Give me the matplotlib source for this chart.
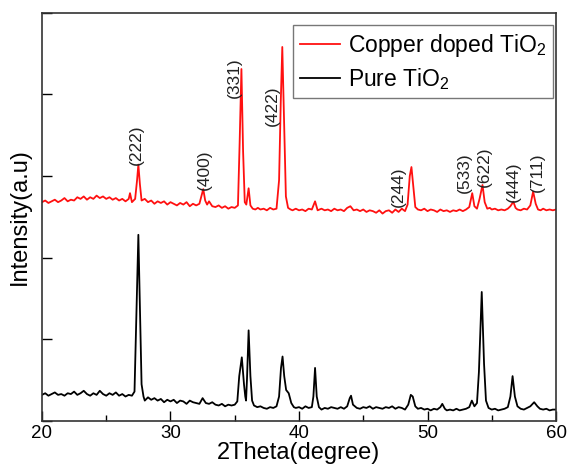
import matplotlib
matplotlib.use("Agg")
import matplotlib.pyplot as plt
from matplotlib.ticker import MultipleLocator

plt.rcParams["font.family"] = ["Liberation Sans", "DejaVu Sans"]
plt.rcParams["mathtext.fontset"] = "custom"
plt.rcParams["mathtext.rm"] = "Liberation Sans"
plt.rcParams["mathtext.it"] = "Liberation Sans:italic"

# ---- pure TiO2 (black) ----
pure_x = [
    20.00, 20.25, 20.50, 20.75, 21.00, 21.25, 21.50, 21.75, 22.00, 22.25,
    22.50, 22.75, 23.00, 23.25, 23.50, 23.75, 24.00, 24.25, 24.50, 24.75,
    25.00, 25.25, 25.50, 25.75, 26.00, 26.25, 26.50, 26.75, 27.00, 27.20,
    27.35, 27.50, 27.62, 27.75, 27.90, 28.00, 28.25, 28.50, 28.75, 29.00,
    29.25, 29.50, 29.75, 30.00, 30.25, 30.50, 30.75, 31.00, 31.25, 31.50,
    31.75, 32.00, 32.25, 32.50, 32.75, 33.00, 33.25, 33.50, 33.75, 34.00,
    34.25, 34.50, 34.75, 35.00, 35.20, 35.35, 35.55, 35.72, 35.82, 35.88,
    35.95, 36.08, 36.22, 36.35, 36.50, 36.75, 37.00, 37.25, 37.50, 37.75,
    38.00, 38.25, 38.45, 38.60, 38.72, 38.85, 39.00, 39.20, 39.40, 39.60,
    39.75, 40.00, 40.25, 40.50, 40.75, 41.00, 41.12, 41.25, 41.38, 41.55,
    41.75, 42.00, 42.25, 42.50, 42.75, 43.00, 43.25, 43.50, 43.75, 43.95,
    44.05, 44.20, 44.50, 44.75, 45.00, 45.25, 45.50, 45.75, 46.00, 46.25,
    46.50, 46.75, 47.00, 47.25, 47.50, 47.75, 48.00, 48.25, 48.50, 48.70,
    48.85, 49.05, 49.25, 49.50, 49.75, 50.00, 50.25, 50.50, 50.75, 51.00,
    51.15, 51.35, 51.50, 51.75, 52.00, 52.25, 52.50, 52.75, 53.00, 53.25,
    53.45, 53.65, 53.85, 54.00, 54.22, 54.40, 54.55, 54.75, 55.00, 55.25,
    55.50, 55.75, 56.00, 56.25, 56.45, 56.62, 56.80, 57.00, 57.25, 57.50,
    57.75, 58.00, 58.30, 58.55, 58.75, 59.00, 59.25, 59.50, 59.75, 60.00,
]
pure_y = [
    0.32, 0.34, 0.31, 0.33, 0.35, 0.32, 0.33, 0.31, 0.34, 0.33,
    0.36, 0.32, 0.34, 0.37, 0.33, 0.31, 0.34, 0.32, 0.37, 0.33,
    0.31, 0.34, 0.32, 0.35, 0.31, 0.33, 0.30, 0.32, 0.31, 0.36,
    1.30, 2.28, 1.40, 0.45, 0.30, 0.25, 0.29, 0.26, 0.28, 0.25,
    0.27, 0.23, 0.26, 0.24, 0.26, 0.22, 0.25, 0.24, 0.21, 0.25,
    0.23, 0.22, 0.21, 0.28, 0.22, 0.21, 0.23, 0.20, 0.19, 0.21,
    0.18, 0.20, 0.19, 0.20, 0.24, 0.55, 0.78, 0.45, 0.30, 0.25,
    0.50, 1.11, 0.55, 0.25, 0.19, 0.17, 0.18, 0.16, 0.15, 0.17,
    0.16, 0.18, 0.30, 0.65, 0.79, 0.55, 0.38, 0.34, 0.22, 0.17,
    0.16, 0.17, 0.15, 0.18, 0.16, 0.17, 0.30, 0.65, 0.30, 0.17,
    0.14, 0.16, 0.15, 0.17, 0.16, 0.15, 0.17, 0.15, 0.18, 0.28,
    0.31, 0.20, 0.16, 0.15, 0.17, 0.16, 0.18, 0.15, 0.17, 0.16,
    0.15, 0.17, 0.16, 0.18, 0.15, 0.17, 0.16, 0.14, 0.20, 0.32,
    0.30, 0.18, 0.15, 0.16, 0.14, 0.15, 0.13, 0.15, 0.14, 0.17,
    0.21, 0.15, 0.13, 0.14, 0.13, 0.15, 0.13, 0.14, 0.15, 0.17,
    0.25, 0.18, 0.22, 0.60, 1.58, 0.70, 0.25, 0.16, 0.14, 0.15,
    0.13, 0.14, 0.15, 0.17, 0.30, 0.55, 0.30, 0.18, 0.15, 0.14,
    0.16, 0.18, 0.23, 0.18, 0.15, 0.14, 0.15, 0.13, 0.14, 0.14,
]

# ---- copper doped TiO2 (red) ----
cu_x = [
    20.00, 20.25, 20.50, 20.75, 21.00, 21.25, 21.50, 21.75, 22.00, 22.25,
    22.50, 22.75, 23.00, 23.25, 23.50, 23.75, 24.00, 24.25, 24.50, 24.75,
    25.00, 25.25, 25.50, 25.75, 26.00, 26.25, 26.50, 26.75, 26.85, 27.00,
    27.25, 27.40, 27.50, 27.62, 27.75, 28.00, 28.25, 28.50, 28.75, 29.00,
    29.25, 29.50, 29.75, 30.00, 30.25, 30.50, 30.75, 31.00, 31.25, 31.50,
    31.75, 32.00, 32.25, 32.45, 32.55, 32.70, 32.85, 33.00, 33.25, 33.50,
    33.75, 34.00, 34.25, 34.50, 34.75, 35.00, 35.25, 35.38, 35.52, 35.65,
    35.78, 35.90, 36.08, 36.22, 36.40, 36.60, 36.80, 37.00, 37.25, 37.50,
    37.75, 38.00, 38.25, 38.45, 38.58, 38.70, 38.85, 38.98, 39.15, 39.35,
    39.50, 39.75, 40.00, 40.25, 40.50, 40.75, 41.00, 41.25, 41.45, 41.75,
    42.00, 42.25, 42.50, 42.75, 43.00, 43.25, 43.50, 43.75, 44.00, 44.25,
    44.50, 44.75, 45.00, 45.25, 45.50, 45.75, 46.00, 46.25, 46.50, 46.75,
    47.00, 47.25, 47.50, 47.75, 48.00, 48.25, 48.45, 48.62, 48.75, 48.88,
    49.05, 49.25, 49.50, 49.75, 50.00, 50.25, 50.50, 50.75, 51.00, 51.25,
    51.50, 51.75, 52.00, 52.25, 52.50, 52.75, 53.00, 53.25, 53.48, 53.65,
    53.85, 54.05, 54.28, 54.45, 54.65, 54.85, 55.00, 55.25, 55.50, 55.75,
    56.00, 56.25, 56.45, 56.68, 56.85, 57.00, 57.25, 57.50, 57.75, 58.00,
    58.22, 58.42, 58.60, 58.80, 59.00, 59.25, 59.50, 59.75, 60.00,
]
cu_y = [
    2.68, 2.70, 2.67, 2.69, 2.71, 2.68, 2.70, 2.73, 2.69, 2.71,
    2.70, 2.74, 2.72, 2.75, 2.71, 2.74, 2.72, 2.76, 2.73, 2.75,
    2.72, 2.74, 2.71, 2.73, 2.70, 2.72, 2.69, 2.72, 2.79, 2.68,
    2.72, 2.95, 3.14, 2.90, 2.70, 2.72, 2.68, 2.70, 2.66, 2.69,
    2.67, 2.69, 2.65, 2.68, 2.66, 2.64, 2.67, 2.65, 2.68, 2.63,
    2.66, 2.64, 2.66, 2.78, 2.84, 2.70, 2.65, 2.69, 2.63, 2.62,
    2.64, 2.61, 2.63, 2.60, 2.62, 2.61, 2.64, 3.40, 4.31, 3.30,
    2.68, 2.65, 2.85, 2.64, 2.60, 2.59, 2.61, 2.59, 2.60, 2.58,
    2.61, 2.59, 2.60, 2.95, 3.90, 4.58, 3.60, 2.75, 2.61, 2.59,
    2.58, 2.60, 2.58, 2.59, 2.57, 2.60, 2.59, 2.69, 2.58, 2.60,
    2.58, 2.59, 2.57, 2.60, 2.58, 2.59, 2.57, 2.61, 2.63, 2.58,
    2.59, 2.57, 2.59, 2.56, 2.58, 2.57, 2.55, 2.58, 2.54, 2.57,
    2.58, 2.55, 2.59, 2.56, 2.60, 2.57, 2.65, 3.00, 3.11, 2.90,
    2.62, 2.59, 2.58, 2.60, 2.57, 2.59, 2.58, 2.56, 2.59, 2.57,
    2.58, 2.56, 2.58, 2.57, 2.59, 2.57, 2.59, 2.62, 2.79, 2.63,
    2.60, 2.72, 2.89, 2.68, 2.60, 2.61, 2.59, 2.60, 2.58, 2.59,
    2.58, 2.60, 2.63, 2.685, 2.61, 2.59, 2.58, 2.60, 2.59, 2.64,
    2.81, 2.66, 2.59, 2.58, 2.60, 2.58, 2.59, 2.58, 2.59,
]

# Miller index labels above the red peaks
hkl_labels = ["(222)", "(400)", "(331)", "(422)", "(244)", "(533)", "(622)", "(444)", "(711)"]
hkl_x = [27.37, 32.60, 34.94, 37.90, 47.70, 52.84, 54.40, 56.65, 58.52]
hkl_y = [3.13, 2.83, 3.96, 3.61, 2.62, 2.79, 2.87, 2.68, 2.80]

fig = plt.figure(figsize=(5.68, 4.68), dpi=100)
ax = fig.add_axes([0.0739, 0.1004, 0.905, 0.8725])

ax.plot(cu_x, cu_y, color="#ff1010", linewidth=1.3, label="Copper doped TiO$_2$")
ax.plot(pure_x, pure_y, color="black", linewidth=1.3, label="Pure TiO$_2$")

for lab, lx, ly in zip(hkl_labels, hkl_x, hkl_y):
    ax.text(lx, ly, lab, rotation=90, ha="center", va="bottom", fontsize=12.5, color="#222222")

ax.set_xlim(20, 60)
ax.set_ylim(0, 5)
ax.xaxis.set_major_locator(MultipleLocator(10))
ax.xaxis.set_minor_locator(MultipleLocator(5))
ax.yaxis.set_major_locator(MultipleLocator(1))
ax.tick_params(axis="x", which="major", direction="in", length=7, width=1, labelsize=13.5, pad=3)
ax.tick_params(axis="x", which="minor", direction="in", length=4, width=1)
ax.tick_params(axis="y", which="major", direction="in", length=7.5, width=1, labelleft=False)
for sp in ax.spines.values():
    sp.set_linewidth(1.2)
    sp.set_color("#333333")

ax.set_xlabel("2Theta(degree)", fontsize=17, labelpad=0)
ax.set_ylabel("Intensity(a.u)", fontsize=17, labelpad=8)

leg = ax.legend(loc="upper right", bbox_to_anchor=(0.994, 0.970), fontsize=16.5,
                frameon=True, fancybox=False, edgecolor="#555555",
                handlelength=1.75, handletextpad=0.35, labelspacing=0.3,
                borderpad=0.3, borderaxespad=0)
leg.get_frame().set_linewidth(1.0)

fig.savefig("out.png", dpi=100)
